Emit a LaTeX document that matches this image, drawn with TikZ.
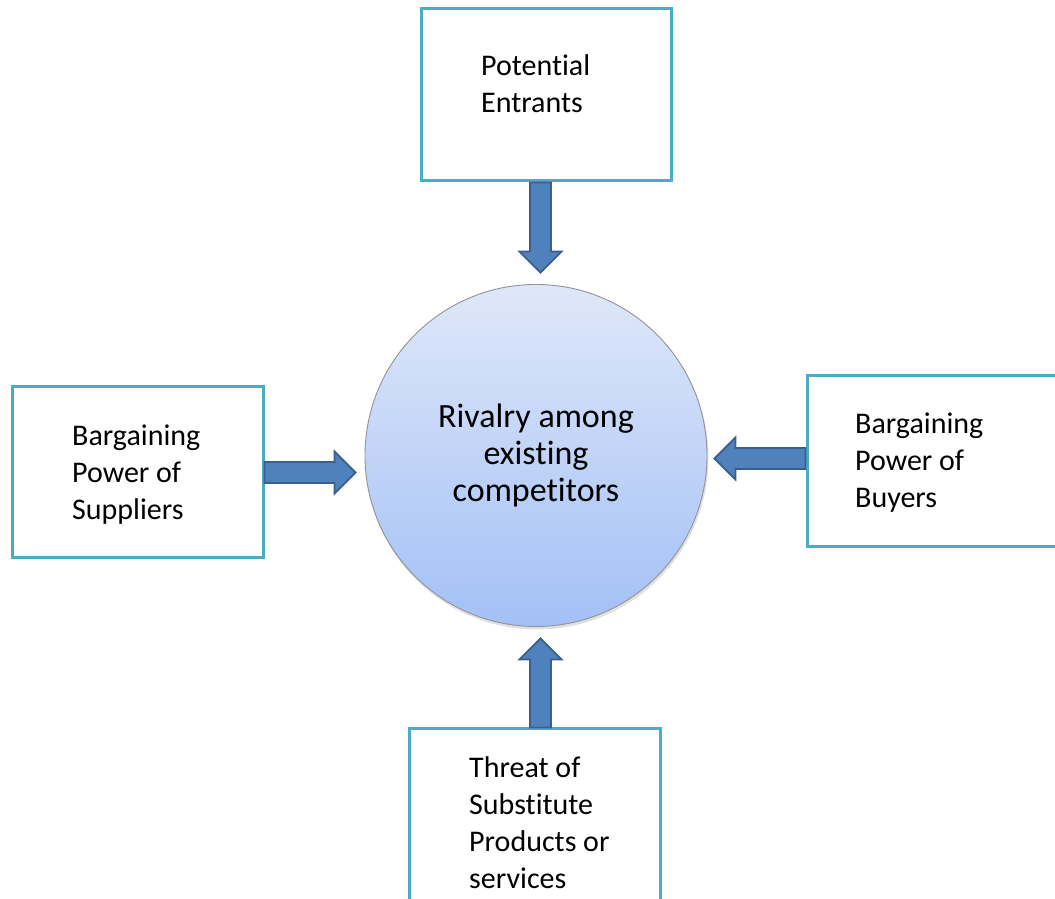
\documentclass[tikz,border=0pt]{standalone}
\usepackage{fontspec}
\setmainfont{Carlito}[Ligatures={NoCommon}]
\usetikzlibrary{calc}

\definecolor{boxline}{HTML}{4BACC6}
\definecolor{arrowfill}{HTML}{4F81BD}
\definecolor{arrowline}{HTML}{3A5F8E}
\definecolor{circtop}{HTML}{DFE8F9}
\definecolor{circbot}{HTML}{A3C0F6}

\tikzset{
  forcebox/.style={draw=boxline, line width=3pt, fill=white, rectangle, inner sep=0pt},
  forcetext/.style={anchor=west, align=left, inner sep=0pt,
    font=\fontsize{30pt}{37pt}\selectfont},
  arrowbody/.style={fill=arrowfill, draw=arrowline, line width=1.8pt, line join=miter},
}

% block arrow from #1 to its tip #2
\newcommand{\blockarrow}[2]{%
  \coordinate (ba-h) at ($(#2)!21pt!(#1)$);
  \draw[arrowbody]
    ($(#1)!10.5pt!90:(#2)$) -- ($(ba-h)!10.5pt!90:(#2)$) --
    ($(ba-h)!21pt!90:(#2)$) -- (#2) -- ($(ba-h)!21pt!-90:(#2)$) --
    ($(ba-h)!10.5pt!-90:(#2)$) -- ($(#1)!10.5pt!-90:(#2)$) -- cycle;
}

\begin{document}
\begin{tikzpicture}[x=1pt,y=1pt]
  \useasboundingbox (0,0) rectangle (1055,899);
  \clip (0,0) rectangle (1055,899);

  % the five forces
  \node[forcebox, minimum width=250pt, minimum height=172pt] (entrants) at (546,804) {};
  \node[forcebox, minimum width=251pt, minimum height=171pt] (suppliers) at (137.5,426.5) {};
  \node[forcebox, minimum width=250pt, minimum height=171pt] (buyers) at (932,437.5) {};
  \node[forcebox, minimum width=251pt, minimum height=172pt] (substitutes) at (534.5,84) {};

  \node[forcetext] (tentrants) at (481,815) {Potential\\Entrants};
  \node[forcetext] (tsuppliers) at (72,424) {Bargaining\\Power of\\Suppliers};
  \node[forcetext] (tbuyers) at (855,436) {Bargaining\\Power of\\Buyers};
  \node[forcetext] (tsubstitutes) at (469,76.5) {Threat of\\Substitute\\Products or\\services};

  % soft shadow under the circle
  \fill[black, opacity=0.12] (537,441) circle (171.5pt);
  \node[circle, minimum size=342pt, inner sep=0pt,
        top color=circtop, bottom color=circbot, draw=gray!85, line width=0.9pt,
        align=center, font=\fontsize{34pt}{37pt}\selectfont] (rivalry) at (536,443.5)
    {Rivalry among\\existing\\competitors};

  % arrow ends
  \coordinate (sN) at ($(entrants.south)+(-5.5,0)$);
  \coordinate (tN) at ($(rivalry.north)+(4.5,11.5)$);
  \coordinate (sS) at ($(substitutes.north)+(6,0)$);
  \coordinate (tS) at ($(rivalry.south)+(4.5,-11.5)$);
  \coordinate (sW) at ($(suppliers.east)+(0,0)$);
  \coordinate (tW) at ($(rivalry.west)+(-9,-17)$);
  \coordinate (sE) at ($(buyers.west)+(0,3)$);
  \coordinate (tE) at ($(rivalry.east)+(7,-3)$);

  \blockarrow{sN}{tN}
  \blockarrow{sS}{tS}
  \blockarrow{sW}{tW}
  \blockarrow{sE}{tE}
\end{tikzpicture}
\end{document}
